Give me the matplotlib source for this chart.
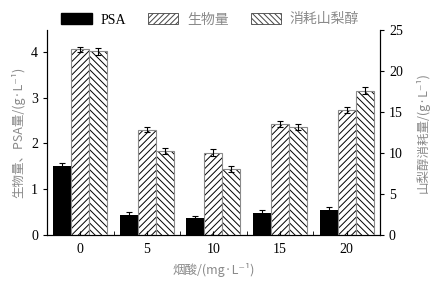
import matplotlib
matplotlib.use('Agg')
import matplotlib.pyplot as plt
from matplotlib.patches import Patch
import numpy as np

# Data
niacin = ['0', '5', '10', '15', '20']
psa = [1.51, 0.44, 0.37, 0.48, 0.55]
psa_err = [0.07, 0.07, 0.05, 0.06, 0.05]
biomass = [4.06, 2.30, 1.80, 2.43, 2.73]
biomass_err = [0.05, 0.06, 0.07, 0.06, 0.07]
sorbitol = [22.4, 10.2, 8.0, 13.2, 17.6]
sorbitol_err = [0.4, 0.35, 0.35, 0.35, 0.4]

plt.rcParams['font.family'] = ['Liberation Serif', 'Noto Sans CJK JP', 'DejaVu Sans']
plt.rcParams['hatch.linewidth'] = 0.7
grey = '#8a8a8a'
cjk = ['Noto Sans CJK JP', 'Liberation Serif', 'DejaVu Sans']

fig = plt.figure(figsize=(4.47, 2.81), dpi=100)
ax = fig.add_axes([0.105, 0.164, 0.745, 0.729])
ax2 = ax.twinx()

x = np.arange(len(niacin))
w = 0.27
ekw = dict(lw=0.8, capthick=0.8, ecolor='black')

ax.bar(x - w, psa, w, color='black', yerr=psa_err, capsize=2, error_kw=ekw)
ax.bar(x, biomass, w, color='white', edgecolor='black', linewidth=0, hatch='/////')
ax.bar(x, biomass, w, fill=False, edgecolor=grey, linewidth=0.8,
       yerr=biomass_err, capsize=2, error_kw=ekw)
ax2.bar(x + w, sorbitol, w, color='white', edgecolor='black', linewidth=0,
        hatch='\\\\\\\\\\')
ax2.bar(x + w, sorbitol, w, fill=False, edgecolor=grey, linewidth=0.8,
        yerr=sorbitol_err, capsize=2, error_kw=ekw)

ax.set_xlim(-0.5, 4.5)
ax.set_ylim(0, 4.48)
ax2.set_ylim(0, 25)
ax.set_xticks(x)
ax.set_xticklabels(niacin)
ax.set_xticks(x[:-1] + 0.5, minor=True)
ax.set_yticks([0, 1, 2, 3, 4])
ax2.set_yticks([0, 5, 10, 15, 20, 25])

for a in (ax, ax2):
    a.spines['top'].set_visible(False)
ax.tick_params(axis='x', which='both', direction='in', length=3, labelsize=10, pad=6)
ax.tick_params(axis='y', direction='out', length=3, labelsize=10)
ax2.tick_params(axis='y', direction='out', length=3, labelsize=10)

ax.set_xlabel('烟酸/(mg·L⁻¹)', color=grey, fontsize=9, labelpad=5, family=cjk)
ax.set_ylabel('生物量、PSA量/(g·L⁻¹)', color=grey, fontsize=9, labelpad=4, family=cjk)
ax2.set_ylabel('山梨醇消耗量/(g·L⁻¹)', color=grey, fontsize=9, labelpad=9, family=cjk)

handles = [Patch(facecolor='black', edgecolor='black'),
           Patch(facecolor='white', edgecolor='#444444', lw=0.6, hatch='//////'),
           Patch(facecolor='white', edgecolor='#444444', lw=0.6, hatch='\\\\\\\\\\\\')]
leg = fig.legend(handles, ['PSA', '生物量', '消耗山梨醇'], ncol=3, frameon=False,
                 loc='upper center', bbox_to_anchor=(0.47, 1.0), fontsize=10,
                 handlelength=2.2, handleheight=0.9, columnspacing=1.6,
                 handletextpad=0.6)
for t in leg.get_texts()[1:]:
    t.set_color(grey)
    t.set_family(cjk)

fig.savefig('out.png', dpi=100)
